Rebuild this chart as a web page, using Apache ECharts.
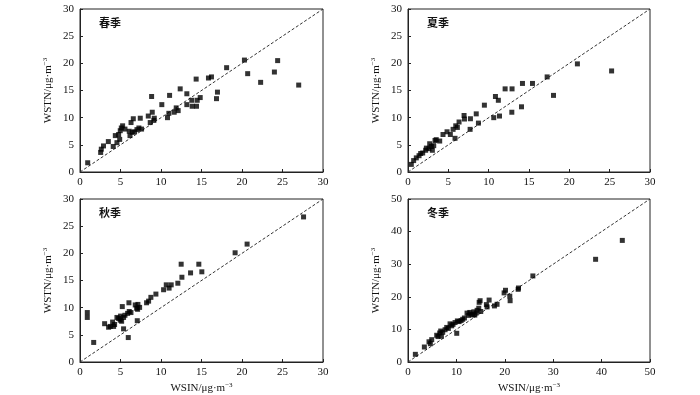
<!DOCTYPE html>
<html>
<head>
<meta charset="utf-8">
<script src="https://cdn.jsdelivr.net/npm/echarts@6/dist/echarts.min.js"></script>
<style>
html,body{margin:0;padding:0;background:#fff;}
#main{width:700px;height:395px;}
</style>
</head>
<body>
<div id="main"></div>
<script>
// ---- Data ----
const panelTitles = ['春季', '夏季', '秋季', '冬季'];
const axisMax = [30, 30, 30, 50];
const axisInterval = [5, 5, 5, 10];

const springX = [0.95,2.55,2.63,2.9,3.5,4.1,4.36,4.56,4.77,4.9,4.97,5.1,5.26,5.55,6.08,6.17,6.3,6.45,6.58,6.74,7.03,7.27,7.44,7.6,8.43,8.67,8.84,8.92,9.12,9.17,10.1,10.8,10.97,11.06,11.63,11.88,12.12,12.37,13.19,13.19,13.8,13.85,14.34,14.38,14.47,14.84,15.86,16.23,16.85,16.97,18.1,20.3,20.7,22.3,24.0,24.4,27.0];
const springY = [1.7,3.6,4.2,4.8,5.6,4.7,6.7,5.4,6.9,6.0,7.6,8.1,8.5,7.9,7.5,6.7,9.1,7.3,9.8,7.4,7.8,8.1,9.9,7.9,10.3,9.1,13.9,11.0,9.5,9.9,12.4,10.0,10.8,14.1,11.0,11.8,11.3,15.3,14.4,12.4,13.2,12.1,17.1,12.1,13.2,13.7,17.3,17.5,13.5,14.7,19.2,20.6,18.1,16.5,18.4,20.5,16.0];

const summerX = [0.41,0.70,1.03,1.37,1.57,1.82,2.19,2.28,2.6,2.69,2.9,3.02,3.19,3.35,3.5,3.93,4.34,4.84,5.25,5.59,5.83,5.92,6.12,6.33,6.95,7.0,7.74,7.7,8.46,8.73,9.47,10.63,10.84,11.2,11.34,12.04,12.87,12.9,14.07,14.19,15.43,17.25,18.04,21.0,25.24];
const summerY = [1.4,2.1,2.6,3.0,3.4,3.5,4.0,4.4,4.3,5.2,4.7,4.0,4.85,5.8,5.95,5.7,6.9,7.4,6.9,7.85,6.2,8.5,8.2,9.2,10.4,9.75,9.8,7.85,10.7,9.0,12.3,10.0,13.9,13.2,10.3,15.3,11.0,15.3,12.0,16.3,16.3,17.5,14.1,19.9,18.6];

const autumnX = [0.9,0.9,1.69,3.04,3.53,3.74,4.03,4.15,4.27,4.56,4.77,4.97,5.01,5.14,5.22,5.38,5.38,5.55,5.88,5.96,6.04,6.08,6.29,6.82,6.99,7.07,7.15,7.11,7.36,8.22,8.47,8.75,9.37,10.32,10.65,11.0,11.26,12.08,12.49,12.58,13.65,14.67,15.04,19.15,20.63,27.6];
const autumnY = [9.1,8.2,3.6,7.05,6.4,6.55,7.35,6.55,6.9,8.2,8.0,7.7,8.45,7.5,10.2,6.1,8.2,8.6,8.95,4.5,10.9,9.3,9.1,10.5,9.9,7.6,10.6,9.7,10.05,10.9,11.2,11.9,12.5,13.3,14.2,13.6,14.2,14.5,18.0,15.6,16.4,18.0,16.6,20.1,21.7,26.7];

const winterX = [1.52,3.38,4.34,4.62,4.9,5.93,6.2,6.55,6.76,6.9,7.17,7.66,8.0,8.34,8.69,9.03,9.3,9.72,10.07,10.2,10.55,10.97,11.3,11.66,12.2,12.55,12.76,13.03,13.38,13.6,13.8,14.07,14.28,14.62,14.7,14.9,15.03,16.2,16.34,16.76,17.86,18.4,19.86,20.14,21.03,21.1,22.76,22.83,25.8,38.76,44.28];
const winterY = [2.35,4.6,6.2,5.6,6.85,8.2,7.8,8.9,9.5,7.9,9.1,9.9,10.6,10.3,11.7,11.1,11.55,12.1,8.8,12.6,12.4,12.7,13.1,13.5,15.0,14.3,15.2,14.7,14.5,15.4,14.4,15.0,15.85,16.5,18.3,18.8,15.5,17.6,16.9,19.0,17.2,17.7,21.2,22.0,20.2,18.8,22.3,22.7,26.4,31.5,37.3];

const panelX = [springX, summerX, autumnX, winterX];
const panelY = [springY, summerY, autumnY, winterY];

// ---- Layout ----
const grids = [
  {left: 80, top: 9, width: 243, height: 163},
  {left: 408, top: 9, width: 242, height: 163},
  {left: 80, top: 199, width: 243, height: 163},
  {left: 408, top: 199, width: 242, height: 163}
];
const FONT = 'Liberation Serif';
const axisCommon = {
  axisLine: {show: true, onZero: false, lineStyle: {color: '#222', width: 1}},
  axisTick: {show: true, inside: true, length: 3, lineStyle: {color: '#222'}},
  splitLine: {show: false},
  axisLabel: {fontFamily: FONT, fontSize: 11, color: '#111'}
};
const nameRich = {
  a: {fontFamily: FONT, fontSize: 11, color: '#111'},
  s: {fontFamily: FONT, fontSize: 7, color: '#111', verticalAlign: 'top', padding: [0, 0, 5, 0]}
};

const xAxes = [], yAxes = [], series = [], titles = [];
for (let i = 0; i < 4; i++) {
  const bottomRow = i >= 2;
  xAxes.push(Object.assign({}, axisCommon, {
    gridIndex: i, type: 'value', min: 0, max: axisMax[i], interval: axisInterval[i],
    axisLabel: Object.assign({}, axisCommon.axisLabel, {margin: 5}),
    name: bottomRow ? '{a|WSIN/μg·m}{s|−3}' : '',
    nameLocation: 'middle', nameGap: 20,
    nameTextStyle: {rich: nameRich}
  }));
  yAxes.push(Object.assign({}, axisCommon, {
    gridIndex: i, type: 'value', min: 0, max: axisMax[i], interval: axisInterval[i],
    axisLabel: Object.assign({}, axisCommon.axisLabel, {margin: 6}),
    name: '{a|WSTN/μg·m}{s|−3}',
    nameLocation: 'middle', nameGap: 26, nameRotate: 90,
    nameTextStyle: {rich: nameRich}
  }));
  const pts = panelX[i].map((x, k) => [x, panelY[i][k]]);
  series.push({
    type: 'line', xAxisIndex: i, yAxisIndex: i, silent: true,
    data: [[0, 0], [axisMax[i], axisMax[i]]],
    symbol: 'none', lineStyle: {color: '#333', width: 1, type: [3, 2]}, z: 1
  });
  series.push({
    type: 'scatter', xAxisIndex: i, yAxisIndex: i,
    data: pts, symbol: 'rect', symbolSize: 5,
    itemStyle: {color: '#000'}, z: 2
  });
  titles.push({
    text: panelTitles[i],
    left: grids[i].left + 14, top: grids[i].top + 3,
    textStyle: {fontFamily: 'Noto Sans CJK SC', fontSize: 11, fontWeight: 'bold', color: '#111'}
  });
}

const chart = echarts.init(document.getElementById('main'), null, {renderer: 'canvas'});
chart.setOption({
  animation: false,
  backgroundColor: '#fff',
  title: titles,
  grid: grids.map(g => Object.assign({show: true, borderColor: '#222', borderWidth: 1, backgroundColor: 'transparent'}, g)),
  xAxis: xAxes,
  yAxis: yAxes,
  series: series
});
</script>
</body>
</html>
